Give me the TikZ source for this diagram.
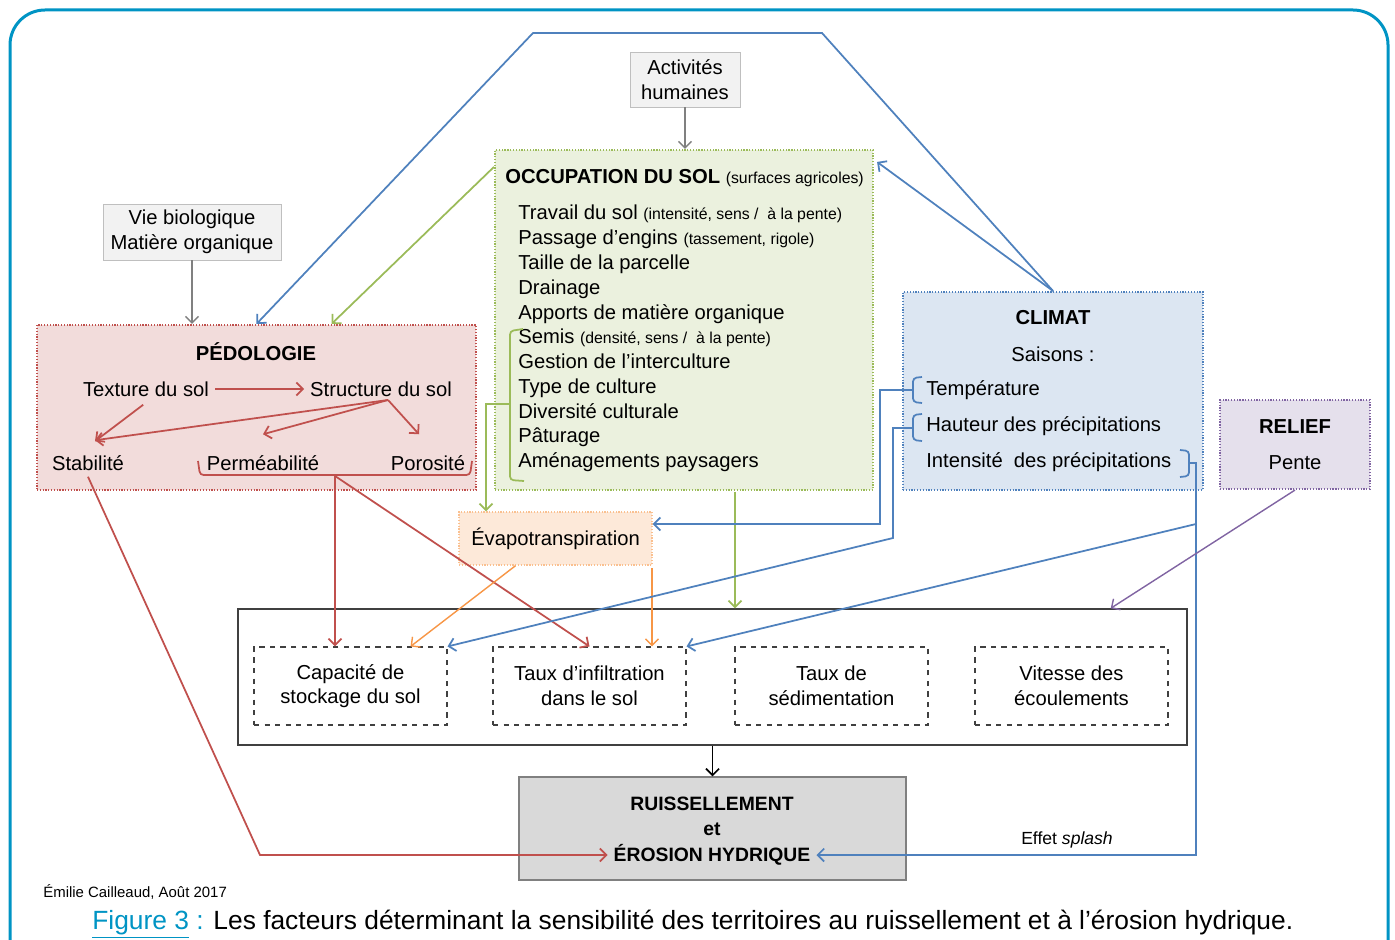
\documentclass[tikz,border=0pt]{standalone}
\usepackage{fontspec}
\setmainfont{Liberation Sans}
\usepackage{tikz}
\usetikzlibrary{calc,arrows,arrows.meta,shapes,backgrounds}
\definecolor{frameteal}{RGB}{0,148,196}
\definecolor{boxfill}{RGB}{242,242,242}
\definecolor{boxline}{RGB}{191,191,191}
\definecolor{occfill}{RGB}{235,241,222}
\definecolor{occline}{RGB}{155,187,89}
\definecolor{pedfill}{RGB}{242,220,219}
\definecolor{pedline}{RGB}{192,80,77}
\definecolor{climfill}{RGB}{220,230,242}
\definecolor{climline}{RGB}{79,129,189}
\definecolor{relfill}{RGB}{229,224,236}
\definecolor{relline}{RGB}{128,100,162}
\definecolor{evafill}{RGB}{253,233,217}
\definecolor{evaline}{RGB}{250,192,144}
\definecolor{evaarrow}{RGB}{247,150,70}
\definecolor{ruisfill}{RGB}{217,217,217}
\definecolor{ruisline}{RGB}{128,128,128}
\newcommand{\occnote}[1]{{\fontsize{9}{10}\selectfont #1}}
\tikzset{>={Straight Barb[length=1.3mm,width=2.6mm]}}
\tikzstyle{frame}=[draw=frameteal, line width=0.6mm, rounded corners=7mm]
\tikzstyle{greyBox}=[draw=boxline, fill=boxfill, align=center, inner sep=0pt]
\tikzstyle{dotBox}=[line width=1.2pt, dash pattern=on 0.7pt off 0.9pt, inner sep=0pt]
\tikzstyle{occBox}=[dotBox, draw=occline, fill=occfill]
\tikzstyle{pedBox}=[dotBox, draw=pedline, fill=pedfill]
\tikzstyle{climBox}=[dotBox, draw=climline, fill=climfill]
\tikzstyle{relBox}=[dotBox, draw=relline, fill=relfill]
\tikzstyle{evaBox}=[dotBox, draw=evaline, fill=evafill, line width=0.8pt]
\tikzstyle{factorBox}=[draw=black!75, dashed, line width=0.6pt, align=center, inner sep=0pt, minimum width=38.6mm, minimum height=15.6mm]
\tikzstyle{greyArrow}=[->, draw=ruisline, line width=0.8pt]
\tikzstyle{redArrow}=[->, draw=pedline, line width=1pt]
\tikzstyle{blueArrow}=[->, draw=climline, line width=1pt]
\tikzstyle{greenArrow}=[->, draw=occline, line width=1pt]
\tikzstyle{orangeArrow}=[->, draw=evaarrow, line width=0.8pt]
\tikzstyle{purpleArrow}=[->, draw=relline, line width=0.8pt]
\tikzstyle{bracket}=[line width=1pt, rounded corners=2pt]

\begin{document}
\begin{tikzpicture}[x=0.2mm, y=-0.2mm, font=\fontsize{11.5}{14}\selectfont]
\useasboundingbox (0,0) rectangle (1395,940);
\draw[frame] (10,940) -- (10,10) -- (1388,10) -- (1388,940);

\node (act) [greyBox, minimum width=22mm, minimum height=11mm] at (685,79.5) {Activités\\humaines};
\node (vie) [greyBox, minimum width=35.6mm, minimum height=11.2mm] at (192,232) {Vie biologique\\Matière organique};

\node (occ) [occBox, minimum width=75.6mm, minimum height=68mm] at (684,320) {};
\node (occtitle) [anchor=base west, inner sep=0pt] at (505,184) {\textbf{OCCUPATION DU SOL} \occnote{(surfaces agricoles)}};
\node (occlist) [anchor=north west, align=left, inner sep=0pt, font=\fontsize{11.5}{14.1}\selectfont] at (518,205) {Travail du sol \occnote{(intensité, sens /\ \ à la pente)}\\
Passage d’engins \occnote{(tassement, rigole)}\\
Taille de la parcelle\\
Drainage\\
Apports de matière organique\\
Semis \occnote{(densité, sens /\ \ à la pente)}\\
Gestion de l’interculture\\
Type de culture\\
Diversité culturale\\
Pâturage\\
Aménagements paysagers};
\draw[bracket, draw=occline] (523,329) -- (510,331) -- (510,480) -- (524,481);
\coordinate (gtip) at (486,404);
\coordinate (gdown) at (735,492);

\node (ped) [pedBox, minimum width=87.8mm, minimum height=33mm] at (256.5,407.5) {};
\node (pedtitle) [font=\fontsize{11.5}{14}\selectfont\bfseries] at (256,352) {PÉDOLOGIE};
\node (texture) at (146,389) {Texture du sol};
\node (structure) at (381,389) {Structure du sol};
\node (stab) at (88,463) {Stabilité};
\node (perm) at (263,463) {Perméabilité};
\node (poro) at (428,463) {Porosité};
\draw[bracket, draw=pedline] (198,461) -- (200,475) -- (470,475) -- (472,461);
\coordinate (pbrace) at (335,476);
\coordinate (sfan) at (388,400);
\coordinate (scorner) at (260,855);

\node (clim) [climBox, minimum width=60mm, minimum height=39.6mm] at (1053,391) {};
\node (climtitle) [font=\fontsize{11.5}{14}\selectfont\bfseries] at (1053,318) {CLIMAT};
\node (saisons) at (1053,354) {Saisons :};
\node (temp) [anchor=west, inner sep=0pt] at (926,390) {Température};
\node (haut) [anchor=west, inner sep=0pt] at (926,426) {Hauteur des précipitations};
\node (inten) [anchor=west, inner sep=0pt] at (926,462) {Intensité\ \ des précipitations};
\draw[bracket, draw=climline] (922,377) -- (913,378) -- (913,402) -- (922,403);
\draw[bracket, draw=climline] (922,414) -- (913,415) -- (913,440) -- (922,441);
\draw[bracket, draw=climline] (1180,450) -- (1189,451) -- (1189,476) -- (1180,477);
\coordinate (ttip) at (913,390);
\coordinate (htip) at (913,428);
\coordinate (itip) at (1189,463);
\coordinate (iside) at (1196,524);

\node (rel) [relBox, minimum width=30mm, minimum height=17.8mm] at (1295,444.5) {};
\node (reltitle) [font=\fontsize{11.5}{14}\selectfont\bfseries] at (1295,427) {RELIEF};
\node (pente) at (1295,463) {Pente};

\node (eva) [evaBox, minimum width=38.6mm, minimum height=10.6mm] at (555.5,538.5) {Évapotranspiration};
\coordinate (eout) at (652,568);

\node (big) [draw=black!75, line width=0.8pt, minimum width=189.8mm, minimum height=27.2mm] at (712.5,677) {};
\node (cap) [factorBox] at (350.5,686) {Capacité de\\stockage du sol};
\node (inf) [factorBox] at (589.5,686) {Taux d’infiltration\\dans le sol};
\node (sed) [factorBox] at (831.5,686) {Taux de\\sédimentation};
\node (vit) [factorBox] at (1071.5,686) {Vitesse des\\écoulements};

\node (ruis) [draw=ruisline, fill=ruisfill, line width=0.6pt, minimum width=77.4mm, minimum height=20.6mm] at (712.5,828.5) {};
\node (ruis1) [font=\fontsize{11}{13}\selectfont\bfseries] at (712,804) {RUISSELLEMENT};
\node (ruiset) [font=\fontsize{11}{13}\selectfont\bfseries] at (712,829) {et};
\node (ero) [font=\fontsize{11}{13}\selectfont\bfseries] at (712,855) {ÉROSION HYDRIQUE};
\node (splash) [font=\fontsize{10}{12}\selectfont] at (1067,840) {Effet \textit{splash}};

\node (author) [anchor=west, inner sep=0pt, font=\fontsize{8.5}{10}\selectfont] at (43,892) {Émilie Cailleaud, Août 2017};
\node (caption) [anchor=base west, inner sep=0pt, font=\fontsize{15}{17}\selectfont] at (92,929) {\textcolor{frameteal}{\underline{Figure 3}~:} Les facteurs déterminant la sensibilité des territoires au ruissellement et à l’érosion hydrique.};

\draw[greyArrow] (act.south) -- (act.south |- occ.north);
\draw[greyArrow] (vie.south) -- (vie.south |- ped.north);

\draw[redArrow] (texture.east) -- (structure.west);
\draw[redArrow, shorten <=2pt] (texture.south) -- ($(stab.north)+(7,-8)$);
\draw[redArrow] (sfan) -- ($(stab.north)+(7,-9)$);
\draw[redArrow] (sfan) -- ($(perm.north)+(0,-15)$);
\draw[redArrow] (sfan) -- ($(poro.north)+(-9,-15)$);
\draw[redArrow] (pbrace) -- (pbrace |- cap.north);
\draw[redArrow] (pbrace) -- (inf.north);
\draw[redArrow] (stab.south) -- (scorner) -- (ero.west);

\draw[greenArrow] ($(occ.north west)+(0,18)$) -- ($(ped.north)+(75,0)$);
\draw[greenArrow] (510,404) -- (gtip) -- (gtip |- eva.north);
\draw[greenArrow] (gdown) -- (gdown |- big.north);

\draw[orangeArrow] ($(eva.south)+(-40,0)$) -- ($(cap.north east)+(-37,0)$);
\draw[orangeArrow] (eout) -- (eout |- inf.north);

\draw[blueArrow] (clim.north) -- ($(occ.north east)+(3,13)$);
\draw[blueArrow] (clim.north) -- (822,33) -- (533,33) -- (ped.north);
\draw[blueArrow] (ttip) -- (880,390) -- (880,524) -- (eva.east |- iside);
\draw[blueArrow] (htip) -- (893,428) -- (893,538) -- (cap.north east);
\draw[blueArrow] (itip) -- (1196,463) -- (1196,855) -- (ero.east);
\draw[blueArrow] (iside) -- (inf.north east);

\draw[purpleArrow] (rel.south) -- ($(big.north east)+(-77,0)$);
\draw[->, line width=1pt] (big.south) -- (ruis.north);
\end{tikzpicture}
\end{document}
